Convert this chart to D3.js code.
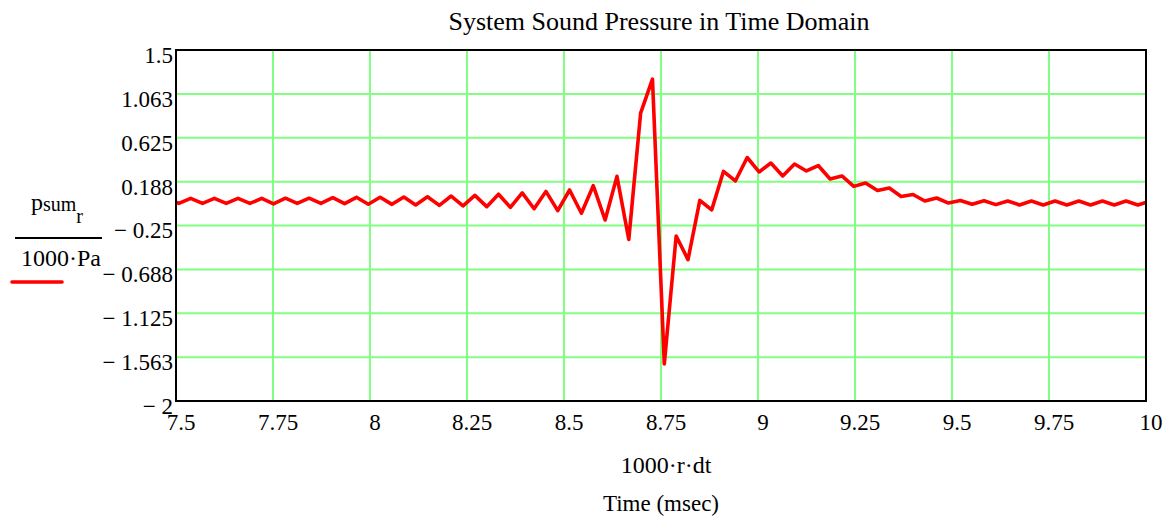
<!DOCTYPE html>
<html>
<head>
<meta charset="utf-8">
<script src="https://cdn.jsdelivr.net/npm/d3@7"></script>
<style>
  body { margin: 0; background: #fff; }
  svg { display: block; font-family: "Liberation Serif", "Times New Roman", serif; }
</style>
</head>
<body>
<svg id="chart" width="1172" height="520"></svg>
<script>
// sample times, 1000·r·dt (msec), r = 245 .. 328
const times = [
  7.4768, 7.5073, 7.5378, 7.5684, 7.5989, 7.6294, 7.6599, 7.6904, 7.7209, 7.7515,
  7.7820, 7.8125, 7.8430, 7.8735, 7.9041, 7.9346, 7.9651, 7.9956, 8.0261, 8.0566,
  8.0872, 8.1177, 8.1482, 8.1787, 8.2092, 8.2397, 8.2703, 8.3008, 8.3313, 8.3618,
  8.3923, 8.4229, 8.4534, 8.4839, 8.5144, 8.5449, 8.5754, 8.6060, 8.6365, 8.6670,
  8.6975, 8.7280, 8.7585, 8.7891, 8.8196, 8.8501, 8.8806, 8.9111, 8.9417, 8.9722,
  9.0027, 9.0332, 9.0637, 9.0942, 9.1248, 9.1553, 9.1858, 9.2163, 9.2468, 9.2773,
  9.3079, 9.3384, 9.3689, 9.3994, 9.4299, 9.4604, 9.4910, 9.5215, 9.5520, 9.5825,
  9.6130, 9.6436, 9.6741, 9.7046, 9.7351, 9.7656, 9.7961, 9.8267, 9.8572, 9.8877,
  9.9182, 9.9487, 9.9792, 10.0098
];

// p_sum / (1000 Pa)
const pressure = [
  0.02, -0.03, 0.02, -0.03, 0.02, -0.03, 0.02, -0.03, 0.02, -0.034,
  0.022, -0.03, 0.022, -0.03, 0.027, -0.032, 0.031, -0.038, 0.031, -0.039,
  0.034, -0.045, 0.037, -0.049, 0.044, -0.055, 0.05, -0.062, 0.062, -0.069,
  0.075, -0.083, 0.09, -0.102, 0.104, -0.128, 0.147, -0.195, 0.24, -0.39,
  0.87, 1.21, -1.63, -0.355, -0.59, 0.0, -0.095, 0.29, 0.194, 0.428,
  0.284, 0.373, 0.244, 0.363, 0.294, 0.348, 0.214, 0.244, 0.14, 0.174,
  0.099, 0.124, 0.039, 0.059, -0.006, 0.024, -0.026, 0.0, -0.038, -0.004,
  -0.042, -0.006, -0.045, -0.006, -0.045, -0.006, -0.045, -0.006, -0.045, -0.006,
  -0.045, -0.006, -0.045, -0.006
];

const xTicks = [7.5, 7.75, 8, 8.25, 8.5, 8.75, 9, 9.25, 9.5, 9.75, 10];
const xTickLabels = ['7.5', '7.75', '8', '8.25', '8.5', '8.75', '9', '9.25', '9.5', '9.75', '10'];
const yTicks = [1.5, 1.0625, 0.625, 0.1875, -0.25, -0.6875, -1.125, -1.5625, -2];
const yTickLabels = ['1.5', '1.063', '0.625', '0.188', '\u2212 0.25', '\u2212 0.688', '\u2212 1.125', '\u2212 1.563', '\u2212 2'];

const svg = d3.select('#chart');
const box = { left: 176, right: 1146, top: 50, bottom: 401 };
const fontSize = 23;

const x = d3.scaleLinear().domain([7.5, 10]).range([box.left, box.right]);
const y = d3.scaleLinear().domain([-2, 1.5]).range([box.bottom, box.top]);

// grid
svg.append('g')
  .selectAll('line')
  .data(xTicks.slice(1, -1))
  .join('line')
  .attr('x1', (d) => x(d)).attr('x2', (d) => x(d))
  .attr('y1', box.top).attr('y2', box.bottom)
  .attr('stroke', '#80ff80').attr('stroke-width', 2);

svg.append('g')
  .selectAll('line')
  .data(yTicks.slice(1, -1))
  .join('line')
  .attr('x1', box.left).attr('x2', box.right)
  .attr('y1', (d) => y(d)).attr('y2', (d) => y(d))
  .attr('stroke', '#80ff80').attr('stroke-width', 2);

// data line, clipped to the plot box
svg.append('clipPath').attr('id', 'plot-clip')
  .append('rect')
  .attr('x', box.left).attr('y', box.top)
  .attr('width', box.right - box.left).attr('height', box.bottom - box.top);

const points = times.map((t, i) => ({ t, v: pressure[i] }));
const line = d3.line().x((d) => x(d.t)).y((d) => y(d.v));

svg.append('path')
  .datum(points)
  .attr('clip-path', 'url(#plot-clip)')
  .attr('d', line)
  .attr('fill', 'none')
  .attr('stroke', '#ff0000')
  .attr('stroke-width', 3.6)
  .attr('stroke-linejoin', 'round');

// plot border
svg.append('rect')
  .attr('x', box.left).attr('y', box.top)
  .attr('width', box.right - box.left).attr('height', box.bottom - box.top)
  .attr('fill', 'none').attr('stroke', '#000').attr('stroke-width', 2);

// axes labels (no tick marks, Mathcad style)
const yAxis = d3.axisLeft(y)
  .tickValues(yTicks)
  .tickSize(0)
  .tickPadding(3)
  .tickFormat((d, i) => yTickLabels[i]);

svg.append('g')
  .attr('transform', `translate(${box.left},0)`)
  .call(yAxis)
  .call((g) => g.select('.domain').remove())
  .selectAll('text')
  .attr('dy', '0.54em')
  .attr('font-size', fontSize)
  .attr('font-family', '"Liberation Serif", serif')
  .attr('fill', '#000');

const xAxis = d3.axisBottom(x)
  .tickValues(xTicks)
  .tickSize(0)
  .tickPadding(13)
  .tickFormat((d, i) => xTickLabels[i]);

svg.append('g')
  .attr('transform', `translate(0,${box.bottom})`)
  .call(xAxis)
  .call((g) => g.select('.domain').remove())
  .selectAll('text')
  .attr('dx', 4.5)
  .attr('font-size', fontSize)
  .attr('font-family', '"Liberation Serif", serif')
  .attr('fill', '#000');

// title and x labels
svg.append('text')
  .attr('x', 659).attr('y', 30)
  .attr('text-anchor', 'middle')
  .attr('font-size', 26)
  .text('System Sound Pressure in Time Domain');

svg.append('text')
  .attr('x', 666).attr('y', 473)
  .attr('text-anchor', 'middle')
  .attr('font-size', 24)
  .text('1000\u00b7r\u00b7dt');

svg.append('text')
  .attr('x', 661).attr('y', 511)
  .attr('text-anchor', 'middle')
  .attr('font-size', fontSize)
  .text('Time (msec)');

// y label as a fraction: p_sum_r / 1000·Pa, with legend line
const yLabel = svg.append('g');

const num = yLabel.append('text')
  .attr('x', 31).attr('y', 210)
  .attr('font-size', 24);
num.append('tspan').text('p');
num.append('tspan').attr('font-size', 20).attr('dy', 1).text('sum');
num.append('tspan').attr('font-size', 20).attr('dy', 12).text('r');

yLabel.append('line')
  .attr('x1', 15).attr('x2', 102)
  .attr('y1', 238).attr('y2', 238)
  .attr('stroke', '#000').attr('stroke-width', 2);

yLabel.append('text')
  .attr('x', 61).attr('y', 266)
  .attr('text-anchor', 'middle')
  .attr('font-size', 24)
  .text('1000\u00b7Pa');

yLabel.append('line')
  .attr('x1', 12).attr('x2', 62)
  .attr('y1', 282).attr('y2', 282)
  .attr('stroke', '#ff0000').attr('stroke-width', 3.6)
  .attr('stroke-linecap', 'round');
</script>
</body>
</html>
